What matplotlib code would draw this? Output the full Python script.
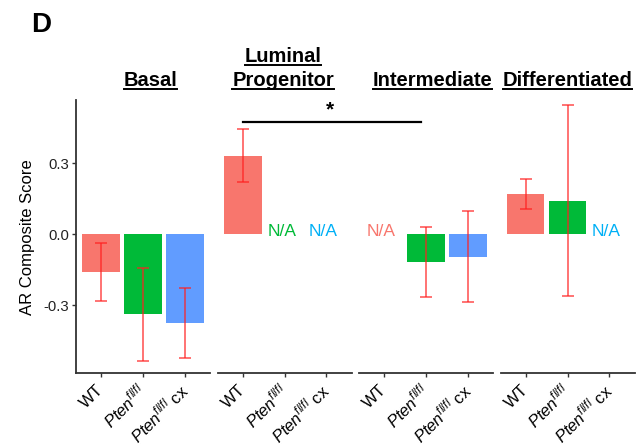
import matplotlib

matplotlib.use("Agg")
import matplotlib.pyplot as plt
import matplotlib.transforms as mtransforms
import numpy as np
from matplotlib.lines import Line2D

plt.rcParams["font.family"] = ["Liberation Sans", "DejaVu Sans"]
plt.rcParams["mathtext.fontset"] = "custom"
plt.rcParams["mathtext.rm"] = "Liberation Sans"
plt.rcParams["mathtext.it"] = "Liberation Sans:italic"

# cell types (facets) and genotypes
groups = ["Basal", "Luminal\nProgenitor", "Intermediate", "Differentiated"]
genotypes = ["WT", r"$Pten^{fl/fl}$", r"$Pten^{fl/fl}$ cx"]
bar_colors = ["#F8766D", "#00BA38", "#619CFF"]
na_colors = ["#F8766D", "#00BA38", "#00B0F6"]

# mean composite score per genotype; None = N/A
means = [
    [-0.159, -0.337, -0.375],
    [0.331, None, None],
    [None, -0.115, -0.094],
    [0.170, 0.142, None],
]
err_lo = [
    [-0.280, -0.535, -0.521],
    [0.219, None, None],
    [None, -0.263, -0.284],
    [0.108, -0.259, None],
]
err_hi = [
    [-0.037, -0.141, -0.226],
    [0.444, None, None],
    [None, 0.031, 0.097],
    [0.233, 0.546, None],
]
title_x = [150.5, 283.0, 432.5, 567.5]  # pixel centres of facet titles

W, H = 637, 445
fig = plt.figure(figsize=(W / 100, H / 100), dpi=100)

YMIN, YMAX = -0.586, 0.566
ax_left = [76, 217.6, 359.0, 500.5]
ax_w = 134.0
ax_top, ax_bot = 100, 373.3

# shift rotated tick labels a bit to the right, like the ggplot original
lbl_shift = mtransforms.ScaledTranslation(6 / 72, 0, fig.dpi_scale_trans)

axes = []
for g, (name, left) in enumerate(zip(groups, ax_left)):
    ax = fig.add_axes(
        [left / W, 1 - ax_bot / H, ax_w / W, (ax_bot - ax_top) / H]
    )
    axes.append(ax)
    x = np.arange(1, 4)
    for i in range(3):
        m = means[g][i]
        if m is None:
            ax.text(x[i] - 0.07, 0.012, "N/A", color=na_colors[i],
                    fontsize=12.5, ha="center", va="center")
            continue
        ax.bar(x[i], m, width=0.9, color=bar_colors[i], zorder=1)
        lo, hi = err_lo[g][i], err_hi[g][i]
        ax.errorbar(x[i], (lo + hi) / 2, yerr=(hi - lo) / 2, fmt="none",
                    ecolor="#FF2020", alpha=0.8, elinewidth=1.1, capsize=4.5,
                    capthick=1.1, zorder=2)
    ax.set_xlim(0.4, 3.6)
    ax.set_ylim(YMIN, YMAX)
    ax.set_xticks(x)
    ax.set_xticklabels(genotypes, rotation=45, ha="right", va="center",
                       rotation_mode="anchor", fontsize=12)
    for lbl in ax.get_xticklabels():
        lbl.set_transform(lbl.get_transform() + lbl_shift)
    ax.tick_params(axis="x", length=3, width=1, color="#333333", pad=7)
    for s in ["top", "right"]:
        ax.spines[s].set_visible(False)
    ax.spines["bottom"].set_color("#333333")
    ax.spines["bottom"].set_linewidth(1.3)
    if g == 0:
        ax.spines["left"].set_color("#333333")
        ax.spines["left"].set_linewidth(1.3)
        ax.set_yticks([-0.3, 0.0, 0.3])
        ax.set_yticklabels(["-0.3", "0.0", "0.3"], fontsize=10.7,
                           color="#222222")
        ax.tick_params(axis="y", length=3, width=1, color="#333333", pad=2)
        ax.set_ylabel("AR Composite Score", fontsize=12, labelpad=6)
    else:
        ax.spines["left"].set_visible(False)
        ax.set_yticks([])
    ax.patch.set_alpha(0)

# significance bracket WT (luminal progenitor) vs Pten (intermediate)
sig_y = 0.473
x0 = axes[1].transData.transform((1, sig_y))
x1 = axes[2].transData.transform((2, sig_y))
fig.add_artist(Line2D([x0[0] / W, (x1[0] - 5) / W],
                      [x0[1] / H, x1[1] / H], color="black", lw=1.6,
                      transform=fig.transFigure))
fig.text((x0[0] + x1[0] - 9) / 2 / W, x0[1] / H + 0.006, "*", ha="center",
         va="bottom", fontsize=15, fontweight="bold")

# facet titles, bold + underlined
fig.canvas.draw()
renderer = fig.canvas.get_renderer()
for name, cx in zip(groups, title_x):
    lines = name.split("\n")
    base = 86.0
    for k, line in enumerate(reversed(lines)):
        yb = base - k * 24.5
        t = fig.text(cx / W, 1 - yb / H, line, ha="center", va="baseline",
                     fontsize=14.5, fontweight="bold")
        bb = t.get_window_extent(renderer)
        uy = (H - yb - 3.3) / H
        fig.add_artist(Line2D([bb.x0 / W, bb.x1 / W], [uy, uy], color="black",
                              lw=1.4, transform=fig.transFigure))

fig.text(31 / W, 1 - 32.3 / H, "D", fontsize=20, fontweight="bold",
         ha="left", va="baseline")

fig.savefig("out.png", dpi=100)
